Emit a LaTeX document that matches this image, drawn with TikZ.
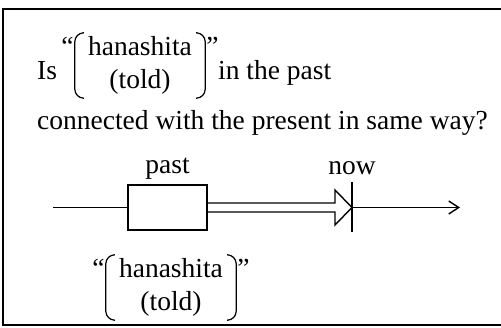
\documentclass[tikz,border=0pt]{standalone}
\usepackage{fontspec}
\setmainfont{Liberation Serif}
\usetikzlibrary{calc,positioning,arrows.meta}

\begin{document}
\begin{tikzpicture}[x=1pt,y=1pt,
  font=\fontsize{27.5}{33}\selectfont,
  txt/.style={inner sep=0pt,anchor=base west},
  word/.style={align=center,inner sep=0pt,minimum width=130pt,minimum height=65pt},
  paren/.style={line width=1.2pt,rounded corners=9pt},
  line/.style={line width=1.4pt},
  frame/.style={line width=2pt}]
\useasboundingbox (0,0) rectangle (501,327);
\draw[frame] (501,318) -- (3,318) -- (3,2) -- (501,2);

\node[txt] (is) at (37,247) {Is};
\node[word] (tword) at (140,261.5) {hanashita\\(told)};
\node[txt] (inpast) at (218,247) {in the past};
\node[txt] (question) at (37,197) {connected with the present in same way?};

\node[word] (bword) at (171,39.5) {hanashita\\(told)};

\foreach \w in {tword,bword}{
  \draw[paren] ($(\w.north west)+(8,0)$) -- (\w.north west) -- (\w.south west) -- ($(\w.south west)+(8,0)$);
  \draw[paren] ($(\w.north east)+(-8,0)$) -- (\w.north east) -- (\w.south east) -- ($(\w.south east)+(-8,0)$);
  \node[inner sep=0pt,anchor=north east] (\w-lq) at ($(\w.north west)+(-1,-4)$) {“};
  \node[inner sep=0pt,anchor=north west] (\w-rq) at ($(\w.north east)+(1,-4)$) {”};
}

\node[draw,line,minimum width=79pt,minimum height=45pt,inner sep=0pt] (box) at (167.5,119.5) {};
\node[above=5pt of box,inner sep=0pt] (past) {past};

\coordinate (start) at (53,119.5);
\coordinate (now) at (352,119.5);
\coordinate (end) at (460,119.5);
\coordinate (ticktop) at ($(now)+(0,25)$);
\coordinate (tickbot) at ($(now)+(0,-25)$);

\draw[line] (start) -- (box.west);
\draw[line] ($(box.east)+(0,4.5)$) -- ($(now)+(-17,4.5)$) -- ($(now)+(-17,17.5)$) -- (now)
  -- ($(now)+(-17,-17.5)$) -- ($(now)+(-17,-4.5)$) -- ($(box.east)+(0,-4.5)$);
\draw[line] (ticktop) -- (tickbot);
\node[above=8pt of ticktop,inner sep=0pt] (nowlbl) {now};
\draw[line,-{Straight Barb[length=10pt,width=13pt]}] (now) -- (end);
\end{tikzpicture}
\end{document}
